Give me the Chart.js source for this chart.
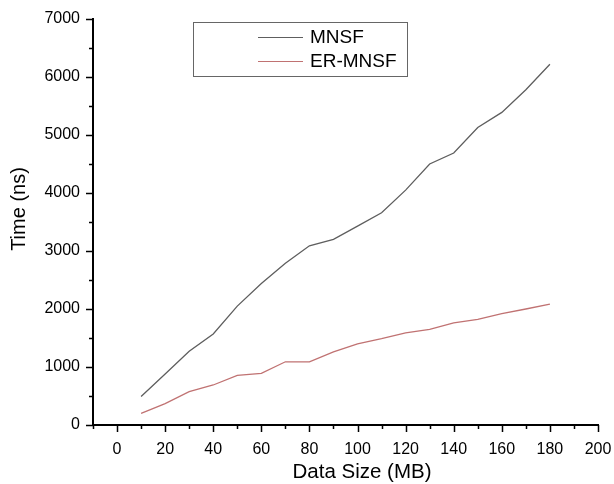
<!DOCTYPE html>
<html>
<head>
<meta charset="utf-8">
<script src="https://cdn.jsdelivr.net/npm/chart.js@4.4.0/dist/chart.umd.min.js"></script>
<style>
  html, body { margin: 0; padding: 0; background: #fff; }
  #wrap { position: relative; width: 614px; height: 484px; }
  #legend {
    position: absolute; left: 193px; top: 22px; width: 215px; height: 55px;
    border: 1px solid #666; box-sizing: border-box;
    font-family: "Liberation Sans", Arial, sans-serif; font-size: 19px; color: #000;
  }
  .item { position: absolute; left: 64px; height: 22px; line-height: 22px; }
  .item span.line { display: inline-block; width: 45px; height: 0; border-top: 1px solid; vertical-align: middle; margin-right: 7px; }
</style>
</head>
<body>
<div id="wrap">
  <canvas id="chart" width="614" height="484"></canvas>
  <div id="legend"></div>
</div>
<script>
// Data
const dataSizes = [10, 20, 30, 40, 50, 60, 70, 80, 90, 100, 110, 120, 130, 140, 150, 160, 170, 180];
const mnsfTimes = [490, 880, 1270, 1570, 2050, 2440, 2790, 3090, 3200, 3430, 3660, 4050, 4500, 4690, 5130, 5390, 5780, 6220];
const erMnsfTimes = [200, 370, 575, 690, 855, 890, 1090, 1090, 1260, 1400, 1490, 1590, 1650, 1760, 1820, 1920, 2000, 2085];
const seriesNames = ['MNSF', 'ER-MNSF'];
const seriesColors = ['#5e5e5e', '#c07272'];
const xTitle = 'Data Size (MB)';
const yTitle = 'Time (ns)';

const FONT = '"Liberation Sans", Arial, sans-serif';

// tick marks (major / minor, outward) and the axis titles, placed as in the original
const axisPlugin = {
    id: 'axisDecor',
    afterDraw(chart) {
        const ctx = chart.ctx;
        const x = chart.scales.x, y = chart.scales.y;
        ctx.save();
        ctx.strokeStyle = '#000';
        ctx.lineWidth = 1.5;
        ctx.beginPath();
        x.ticks.forEach(t => {
            const px = Math.round(x.getPixelForValue(t.value)) + 0.5;
            const len = (t.value % 20 === 0) ? 7 : 4;
            ctx.moveTo(px, x.top);
            ctx.lineTo(px, x.top + len);
        });
        y.ticks.forEach(t => {
            const py = Math.round(y.getPixelForValue(t.value)) + 0.5;
            const len = (t.value % 1000 === 0) ? 7 : 4;
            ctx.moveTo(y.right, py);
            ctx.lineTo(y.right - len, py);
        });
        ctx.stroke();

        ctx.fillStyle = '#000';
        ctx.font = '20.5px ' + FONT;
        ctx.textAlign = 'center';
        ctx.textBaseline = 'middle';
        ctx.fillText(xTitle, 362, 472);
        ctx.translate(19, 209);
        ctx.rotate(-Math.PI / 2);
        ctx.font = '20px ' + FONT;
        ctx.fillText(yTitle, 0, 0);
        ctx.restore();
    }
};

const datasets = [mnsfTimes, erMnsfTimes].map((vals, i) => ({
    label: seriesNames[i],
    data: dataSizes.map((d, j) => ({ x: d, y: vals[j] })),
    borderColor: seriesColors[i],
    borderWidth: 1.3,
    pointRadius: 0,
    tension: 0,
    fill: false
}));

new Chart(document.getElementById('chart'), {
    type: 'line',
    data: { datasets: datasets },
    options: {
        responsive: false,
        animation: false,
        layout: { padding: { left: 10, right: 16, top: 19, bottom: 0 } },
        plugins: { legend: { display: false }, tooltip: { enabled: false } },
        scales: {
            x: {
                type: 'linear',
                min: -10, max: 200,
                grid: { display: false },
                border: { display: true, color: '#000', width: 2 },
                ticks: {
                    stepSize: 10,
                    autoSkip: false,
                    maxRotation: 0,
                    padding: 7,
                    color: '#000',
                    font: { family: FONT, size: 16 },
                    callback: v => (v % 20 === 0 ? String(v) : '')
                },
                afterFit(scale) {
                    scale.height = 59;
                    scale.paddingRight = 0;
                    scale.paddingLeft = 0;
                }
            },
            y: {
                min: 0, max: 7000,
                grid: { display: false },
                border: { display: true, color: '#000', width: 2 },
                ticks: {
                    stepSize: 500,
                    autoSkip: false,
                    padding: 5,
                    color: '#000',
                    font: { family: FONT, size: 16 },
                    callback: v => (v % 1000 === 0 ? String(v) : '')
                },
                afterFit(scale) {
                    scale.width = 83;
                    scale.paddingTop = 0;
                    scale.paddingBottom = 0;
                }
            }
        }
    },
    plugins: [axisPlugin]
});

// legend box
const legend = document.getElementById('legend');
seriesNames.forEach((name, i) => {
    const item = document.createElement('div');
    item.className = 'item';
    item.style.top = (3 + i * 24) + 'px';
    item.innerHTML = '<span class="line" style="border-color:' + seriesColors[i] + '"></span>' + name;
    legend.appendChild(item);
});
</script>
</body>
</html>
